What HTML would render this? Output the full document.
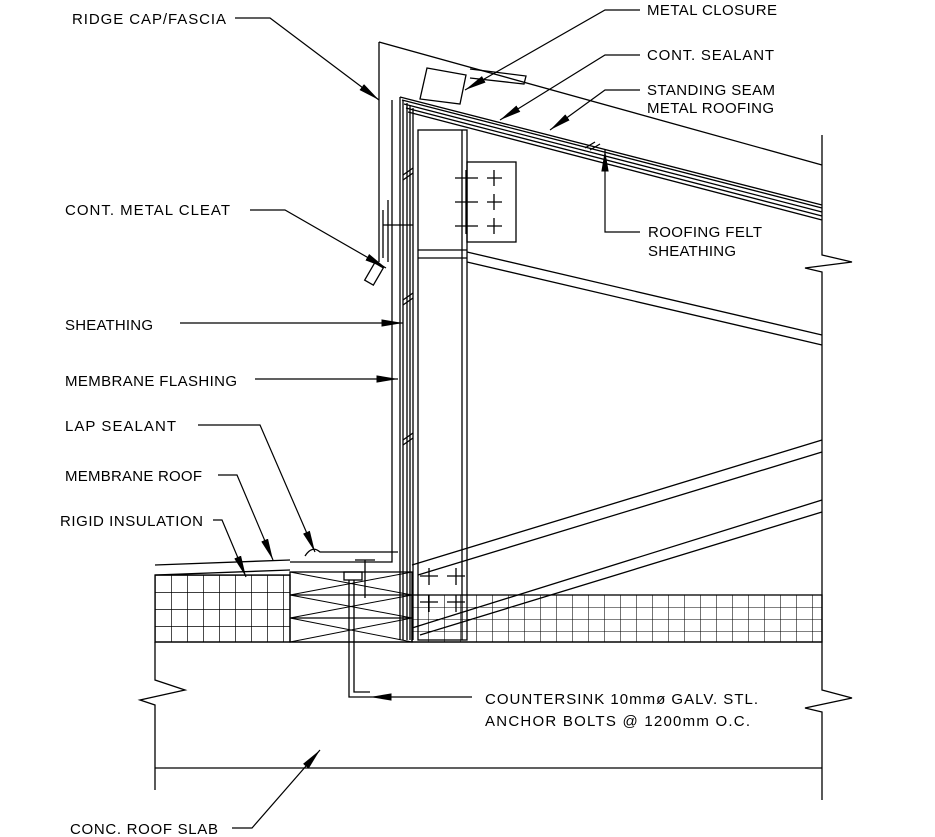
<!DOCTYPE html>
<html><head><style>
html,body{margin:0;padding:0;background:#fff;}
svg{display:block;}
text{font-family:"Liberation Sans",sans-serif;font-size:15px;fill:#000;}
</style></head><body>
<svg width="935" height="837" viewBox="0 0 935 837" xmlns="http://www.w3.org/2000/svg">
<defs>
<marker id="a" viewBox="0 0 20 8" refX="20" refY="4" markerWidth="18" markerHeight="7" orient="auto" preserveAspectRatio="none"><path d="M0,0.5 L20,4 L0,7.5 z" fill="#000"/></marker>
<pattern id="g" x="155" y="575" width="16" height="17" patternUnits="userSpaceOnUse"><path d="M0,0 V17 M0,0 H16" stroke="#000" stroke-width="1.4" fill="none"/></pattern>
<pattern id="g2" x="412" y="595" width="16" height="12" patternUnits="userSpaceOnUse"><path d="M0,0 V12 M0,0 H16" stroke="#000" stroke-width="1.1" fill="none"/></pattern>
</defs>
<g stroke="#000" stroke-width="1.3" fill="none">
<path d="M155,642 V680 L185,690 L140,700 L155,705 V790"/>
<path d="M822,135 V255 L852,262 L805,268 L822,272 V690 L852,698 L805,708 L822,712 V800"/>
<line x1="155" y1="642" x2="822" y2="642"/>
<line x1="155" y1="768" x2="822" y2="768"/>
<rect x="155" y="575" width="135" height="67" fill="url(#g)"/>
<path d="M155,565 L290,560 M155,575 L290,570"/>
<rect x="290" y="572" width="122" height="70"/>
<path d="M290,595 H412 M290,618 H412"/>
<path d="M290,572 L412,595 M290,595 L412,572 M290,595 L412,618 M290,618 L412,595 M290,618 L412,642 M290,642 L412,618" stroke-width="1"/>
<rect x="412" y="595" width="410" height="47" fill="url(#g2)"/>
<path d="M290,562 H392 V100"/>
<path d="M305,556 Q312,545 320,552 L398,552"/>
<rect x="344" y="572" width="18" height="8"/>
<path d="M349,580 V697 H370 M354,580 V692 H370"/>
<path d="M355,560 H375 M365,560 V598"/>
<path d="M400,97 V640 M403,100 V640 M407,103 V640 M410,106 V640 M413,108 V640"/>
<path d="M400,97 L822,205 M402,100 L822,208 M404,104 L822,212 M406,108 L822,216 M408,112 L822,220"/>
<path d="M379,42 V262 M379,42 L822,165"/>
<path d="M383,210 V258 M388,200 V262 M383,225 H413"/>
<rect x="369" y="264" width="10" height="20" transform="rotate(30 374 274)"/>
<path d="M427,68 L466,75 L460,104 L420,99 Z M470,69 L526,76 L524,84 L470,78"/>
<rect x="418" y="130" width="49" height="510"/>
<path d="M418,250 H467 M418,258 H467 M462,130 V640"/>
<rect x="467" y="162" width="49" height="80"/>
<path d="M455,178 H478 M487,178 H502 M494,170 V186 M455,202 H478 M487,202 H502 M494,194 V210 M455,226 H478 M487,226 H502 M494,218 V234 M466,170 V234"/>
<path d="M420,576 H438 M429,568 V585 M447,576 H465 M456,568 V585 M420,602 H438 M429,595 V612 M447,602 H465 M456,595 V612"/>
<path d="M467,252 L822,335 M467,262 L822,345"/>
<path d="M412,565 L822,440 M418,575 L822,452"/>
<path d="M412,628 L822,500 M420,635 L822,512"/>
<path d="M403,175 L413,168 M403,180 L413,173 M403,300 L413,293 M403,305 L413,298 M403,440 L413,433 M403,445 L413,438 M585,148 L595,142 M590,150 L600,144"/>
</g>
<g stroke="#000" stroke-width="1.2" fill="none" marker-end="url(#a)">
<path d="M235,18 H270 L379,100"/>
<path d="M640,10 H605 L465,90"/>
<path d="M640,55 H605 L500,120"/>
<path d="M640,90 H605 L550,130"/>
<path d="M640,232 H605 V150"/>
<path d="M250,210 H285 L386,268"/>
<path d="M180,323 H403"/>
<path d="M255,379 H398"/>
<path d="M198,425 H260 L315,552"/>
<path d="M218,475 H237 L273,560"/>
<path d="M213,520 H222 L246,577"/>
<path d="M472,697 H370"/>
<path d="M232,828 H252 L320,750"/>
</g>
<text x="72" y="24" textLength="154">RIDGE CAP/FASCIA</text>
<text x="647" y="15" textLength="130">METAL CLOSURE</text>
<text x="647" y="60" textLength="127">CONT. SEALANT</text>
<text x="647" y="95" textLength="128">STANDING SEAM</text>
<text x="647" y="113" textLength="127">METAL ROOFING</text>
<text x="648" y="237" textLength="114">ROOFING FELT</text>
<text x="648" y="256" textLength="88">SHEATHING</text>
<text x="65" y="215" textLength="165">CONT. METAL CLEAT</text>
<text x="65" y="330" textLength="88">SHEATHING</text>
<text x="65" y="386" textLength="172">MEMBRANE FLASHING</text>
<text x="65" y="431" textLength="111">LAP SEALANT</text>
<text x="65" y="481" textLength="137">MEMBRANE ROOF</text>
<text x="60" y="526" textLength="143">RIGID INSULATION</text>
<text x="485" y="704" textLength="273">COUNTERSINK 10mmø GALV. STL.</text>
<text x="485" y="726" textLength="265">ANCHOR BOLTS @ 1200mm O.C.</text>
<text x="70" y="834" textLength="148">CONC. ROOF SLAB</text>
</svg>
</body></html>
